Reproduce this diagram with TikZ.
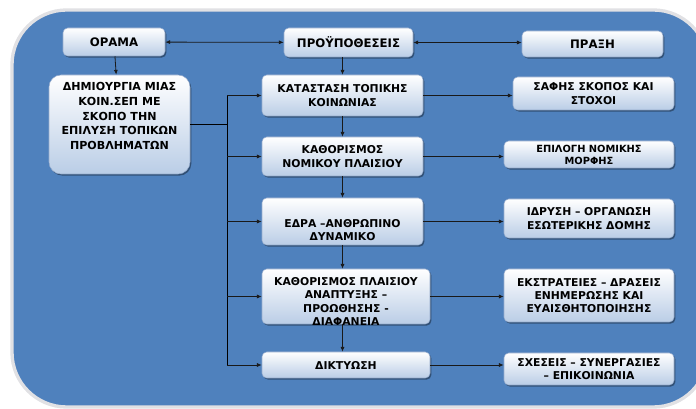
\documentclass[tikz,border=0pt]{standalone}
\usepackage{fontspec}
\setmainfont{DejaVu Sans}
\usetikzlibrary{arrows.meta}
\usetikzlibrary{shadows}

\definecolor{bgblue}{RGB}{79,129,189}
\definecolor{boxbot}{RGB}{186,205,230}
\definecolor{boxline}{RGB}{150,172,205}
\definecolor{rim}{RGB}{225,225,228}

\tikzset{
  box/.style={draw=boxline, line width=0.4pt, rounded corners=3.5pt,
    top color=white, bottom color=boxbot, align=center, inner sep=1pt,
    font=\bfseries\fontsize{8.1}{9.9}\selectfont,
    drop shadow={shadow xshift=1pt, shadow yshift=-1.2pt, opacity=0.5, fill=black!75!bgblue}},
  headbox/.style={box, font=\bfseries\fontsize{8.8}{10}\selectfont},
  txt/.style={align=center, inner sep=0pt, font=\bfseries\fontsize{8.1}{9.9}\selectfont},
  arr/.style={-{Latex[length=3.6pt,width=3pt]}, line width=0.6pt, draw=black!90},
  twoway/.style={{Latex[length=3.6pt,width=3pt]}-{Latex[length=3.6pt,width=3pt]}, line width=0.6pt, draw=black!90},
}

\begin{document}
\begin{tikzpicture}[x=0.75pt,y=0.75pt,yscale=-1,xscale=1]
    \useasboundingbox (0,0) rectangle (696,409);
    %Background
    \draw [draw=rim, line width=2.5pt, fill=bgblue, rounded corners=41pt] (12,10) rectangle (708,407);

    %Top row
    \node [headbox, minimum width=76.5pt, minimum height=21pt] (orama) at (114,42) {ΟΡΑΜΑ};
    \node [headbox, minimum width=96.75pt, minimum height=21.75pt] (proyp) at (348.5,42.5) {ΠΡΟΫΠΟΘΕΣΕΙΣ};
    \node [headbox, minimum width=105.75pt, minimum height=19.5pt] (praxi) at (592.5,44) {ΠΡΑΞΗ};

    %Left box
    \node [box, rounded corners=9pt, minimum width=105.75pt, minimum height=74.25pt] (dem) at (119.5,124.5) {};
    \node [txt, font=\bfseries\fontsize{8.3}{10.9}\selectfont] (demtxt) at (119.5,116) {ΔΗΜΙΟΥΡΓΙΑ ΜΙΑΣ\\ΚΟΙΝ.ΣΕΠ ΜΕ\\ΣΚΟΠΟ ΤΗΝ\\ΕΠΙΛΥΣΗ ΤΟΠΙΚΩΝ\\ΠΡΟΒΛΗΜΑΤΩΝ};

    %Middle column
    \node [box, minimum width=120.75pt, minimum height=30.75pt] (kat) at (342.5,95.5) {ΚΑΤΑΣΤΑΣΗ ΤΟΠΙΚΗΣ\\ΚΟΙΝΩΝΙΑΣ};
    \node [box, minimum width=120.75pt, minimum height=29.25pt] (nom) at (342.5,156.5) {ΚΑΘΟΡΙΣΜΟΣ\\ΝΟΜΙΚΟΥ ΠΛΑΙΣΙΟΥ};
    \node [box, minimum width=120.75pt, minimum height=35.25pt] (edra) at (342.5,221.5) {};
    \node [txt] (edratxt) at (342.5,230) {ΕΔΡΑ –ΑΝΘΡΩΠΙΝΟ\\ΔΥΝΑΜΙΚΟ};
    \node [box, minimum width=126pt, minimum height=41.25pt] (plais) at (346,296.5) {};
    \node [txt] (plaistxt) at (346,301.5) {ΚΑΘΟΡΙΣΜΟΣ ΠΛΑΙΣΙΟΥ\\ΑΝΑΠΤΥΞΗΣ –\\ΠΡΟΩΘΗΣΗΣ -\\ΔΙΑΦΑΝΕΙΑ};
    \node [box, minimum width=126pt, minimum height=19.5pt] (dikt) at (346,365) {ΔΙΚΤΥΩΣΗ};

    %Right column
    \node [box, minimum width=120.75pt, minimum height=24.75pt] (safis) at (593.5,93.5) {ΣΑΦΗΣ ΣΚΟΠΟΣ ΚΑΙ\\ΣΤΟΧΟΙ};
    \node [box, minimum width=127.5pt, minimum height=20.25pt, font=\bfseries\fontsize{7.4}{9}\selectfont] (epil) at (589,154.5) {ΕΠΙΛΟΓΗ ΝΟΜΙΚΗΣ\\ΜΟΡΦΗΣ};
    \node [box, minimum width=127.5pt, minimum height=29.25pt] (idr) at (589,218.5) {ΙΔΡΥΣΗ – ΟΡΓΑΝΩΣΗ\\ΕΣΩΤΕΡΙΚΗΣ ΔΟΜΗΣ};
    \node [box, minimum width=127.5pt, minimum height=39.75pt] (ekst) at (589,295.5) {ΕΚΣΤΡΑΤΕΙΕΣ – ΔΡΑΣΕΙΣ\\ΕΝΗΜΕΡΩΣΗΣ ΚΑΙ\\ΕΥΑΙΣΘΗΤΟΠΟΙΗΣΗΣ};
    \node [box, minimum width=127.5pt, minimum height=24pt] (sxes) at (589,369) {ΣΧΕΣΕΙΣ – ΣΥΝΕΡΓΑΣΙΕΣ\\– ΕΠΙΚΟΙΝΩΝΙΑ};

    %Connectors
    \coordinate (spine) at (227,0);
    \draw [twoway] (orama) -- (proyp);
    \draw [twoway] (proyp) -- (praxi.west |- proyp);
    \draw [arr] (orama) -- (dem);
    \draw [arr] (proyp.south -| kat) -- (kat);
    \draw [arr] (kat) -- (nom);
    \draw [arr] (nom) -- (edra);
    \draw [arr] (edra.south) -- (edra.south |- plais.north);
    \draw [arr] (plais.south -| edra) -- (dikt.north -| edra);
    \draw [line width=0.6pt] (dem.east) -- (dem.east -| spine);
    \draw [line width=0.6pt] (spine |- kat) -- (spine |- dikt);
    \foreach \n in {kat,nom,edra,plais,dikt}
      \draw [arr] (spine |- \n) -- (\n.west);
    \foreach \a/\b in {kat/safis,nom/epil,edra/idr,plais/ekst,dikt/sxes}
      \draw [arr] (\a.east) -- (\a.east -| \b.west);
\end{tikzpicture}
\end{document}
